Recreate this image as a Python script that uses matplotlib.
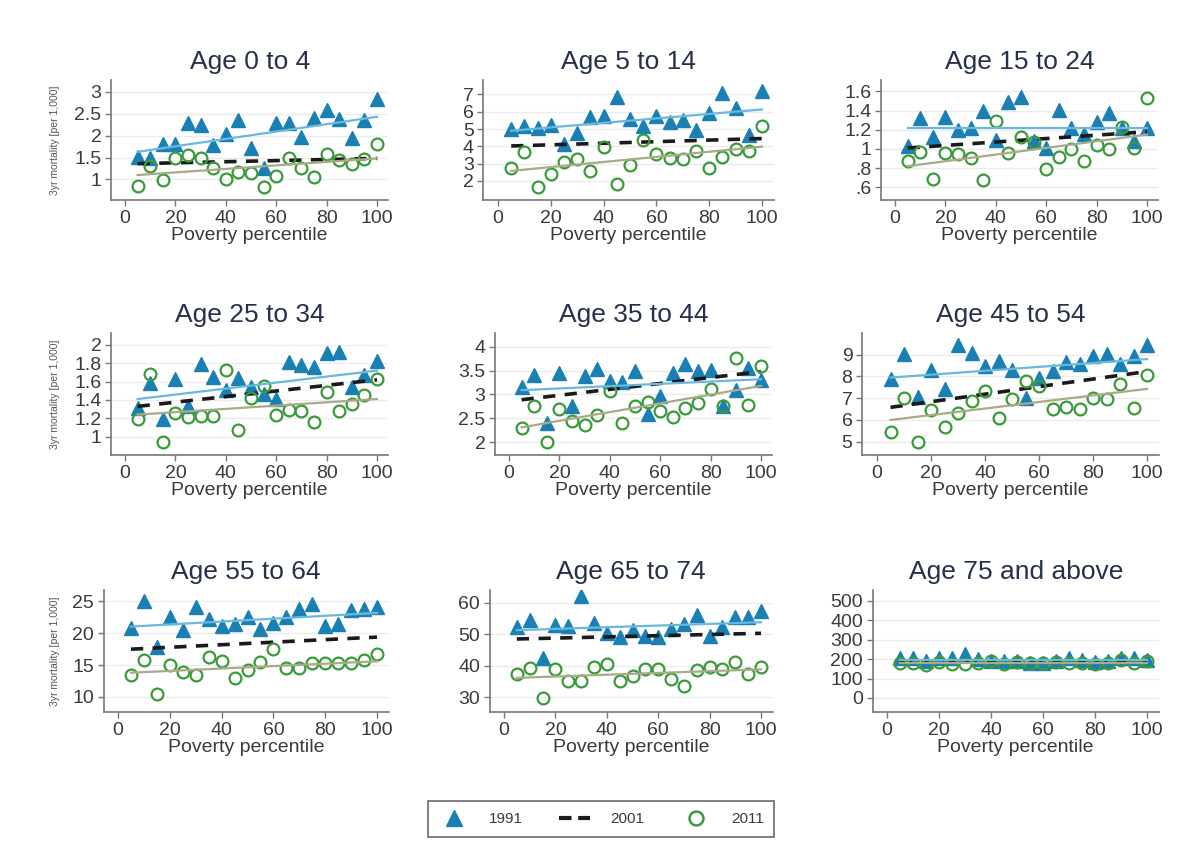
import matplotlib.pyplot as plt
from matplotlib.lines import Line2D

plt.rcParams['font.family'] = ['Liberation Sans', 'DejaVu Sans']

percentile = [5, 10, 15, 20, 25, 30, 35, 40, 45, 50, 55, 60, 65, 70, 75, 80, 85, 90, 95, 100]

titles = ["Age 0 to 4", "Age 5 to 14", "Age 15 to 24",
          "Age 25 to 34", "Age 35 to 44", "Age 45 to 54",
          "Age 55 to 64", "Age 65 to 74", "Age 75 and above"]

# 3yr mortality per 1,000 by poverty percentile
m1991_0_4 = [1.52, 1.48, 1.82, 1.82, 2.28, 2.24, 1.78, 2.03, 2.35, 1.71,
             1.25, 2.28, 2.28, 1.97, 2.41, 2.58, 2.39, 1.94, 2.35, 2.83]
m2011_0_4 = [0.86, 1.30, 0.98, 1.48, 1.56, 1.49, 1.27, 1.00, 1.17, 1.15,
             0.83, 1.08, 1.50, 1.27, 1.05, 1.58, 1.44, 1.36, 1.46, 1.80]

m1991_5_14 = [4.98, 5.17, 5.04, 5.21, 4.13, 4.75, 5.67, 5.75, 6.87, 5.58,
              5.17, 5.75, 5.38, 5.52, 4.94, 5.90, 7.10, 6.23, 4.65, 7.20]
m2011_5_14 = [2.77, 3.69, 1.67, 2.38, 3.08, 3.25, 2.60, 3.98, 1.83, 2.92,
              4.37, 3.54, 3.35, 3.25, 3.73, 2.73, 3.40, 3.85, 3.75, 5.19]

m1991_15_24 = [1.03, 1.32, 1.13, 1.33, 1.20, 1.22, 1.40, 1.09, 1.49, 1.54,
               1.08, 1.01, 1.41, 1.22, 1.16, 1.28, 1.38, 1.22, 1.08, 1.22]
m2011_15_24 = [0.87, 0.97, 0.69, 0.96, 0.95, 0.91, 0.68, 1.29, 0.96, 1.12,
               1.07, 0.79, 0.92, 1.00, 0.87, 1.04, 1.00, 1.23, 1.01, 1.53]

m1991_25_34 = [1.31, 1.58, 1.19, 1.63, 1.33, 1.79, 1.65, 1.51, 1.64, 1.54,
               1.46, 1.41, 1.81, 1.78, 1.76, 1.91, 1.92, 1.54, 1.67, 1.82]
m2011_25_34 = [1.19, 1.68, 0.94, 1.26, 1.21, 1.23, 1.23, 1.73, 1.07, 1.42,
               1.55, 1.24, 1.29, 1.28, 1.16, 1.49, 1.28, 1.36, 1.45, 1.63]

m1991_35_44 = [3.15, 3.41, 2.40, 3.46, 2.76, 3.39, 3.53, 3.29, 3.27, 3.50,
               2.59, 2.97, 3.46, 3.65, 3.49, 3.51, 2.76, 3.09, 3.55, 3.30]
m2011_35_44 = [2.29, 2.75, 2.00, 2.69, 2.45, 2.36, 2.56, 3.08, 2.41, 2.76,
               2.85, 2.66, 2.52, 2.71, 2.82, 3.11, 2.76, 3.76, 2.78, 3.60]

m1991_45_54 = [7.89, 9.05, 7.08, 8.31, 7.42, 9.46, 9.08, 8.49, 8.72, 8.31,
               7.00, 7.95, 8.23, 8.65, 8.57, 8.95, 9.05, 8.57, 8.95, 9.46]
m2011_45_54 = [5.46, 7.00, 5.00, 6.46, 5.69, 6.34, 6.88, 7.35, 6.08, 6.95,
               7.77, 7.54, 6.49, 6.62, 6.49, 7.03, 6.97, 7.65, 6.54, 8.05]

m1991_55_64 = [20.9, 25.0, 17.8, 22.5, 20.5, 24.2, 22.2, 21.1, 21.4, 22.5,
               20.7, 21.6, 22.5, 23.8, 24.6, 21.2, 21.4, 23.7, 23.8, 24.2]
m2011_55_64 = [13.4, 15.8, 10.5, 15.0, 13.9, 13.4, 16.2, 15.7, 13.0, 14.2,
               15.5, 17.6, 14.6, 14.5, 15.4, 15.4, 15.4, 15.4, 15.8, 16.8]

m1991_65_74 = [52.4, 54.5, 42.6, 52.9, 52.7, 62.0, 53.7, 50.5, 49.2, 51.3,
               49.4, 49.0, 51.6, 53.1, 56.1, 49.4, 52.4, 55.4, 55.4, 57.4]
m2011_65_74 = [37.3, 39.2, 29.9, 38.9, 35.3, 35.3, 39.7, 40.5, 35.2, 36.9,
               38.9, 38.9, 35.7, 33.7, 38.7, 39.7, 38.9, 41.3, 37.3, 39.7]

m1991_75 = [205, 205, 190, 205, 205, 225, 200, 190, 190, 190,
            180, 180, 190, 205, 195, 185, 190, 205, 205, 195]
m2011_75 = [180, 180, 170, 185, 175, 175, 180, 190, 175, 185,
            180, 180, 185, 180, 180, 175, 180, 195, 180, 190]

series1991 = [m1991_0_4, m1991_5_14, m1991_15_24, m1991_25_34, m1991_35_44,
              m1991_45_54, m1991_55_64, m1991_65_74, m1991_75]
series2011 = [m2011_0_4, m2011_5_14, m2011_15_24, m2011_25_34, m2011_35_44,
              m2011_45_54, m2011_55_64, m2011_65_74, m2011_75]

# fitted lines: value at percentile 5 and at 100
fit_x = [5, 100]
fit1991 = [[1.63, 2.43], [4.90, 6.13], [1.22, 1.22], [1.41, 1.72], [3.09, 3.32],
           [7.95, 8.80], [21.05, 23.2], [51.3, 53.8], [195, 195]]
fit2001 = [[1.36, 1.48], [4.02, 4.45], [1.01, 1.18], [1.33, 1.62], [2.89, 3.48],
           [6.58, 8.23], [17.5, 19.4], [48.5, 50.3], [190, 190]]
fit2011 = [[1.10, 1.48], [2.58, 3.98], [0.82, 1.15], [1.24, 1.41], [2.31, 3.18],
           [6.00, 7.43], [13.8, 15.6], [36.2, 38.9], [180, 180]]

yticks = [[1, 1.5, 2, 2.5, 3], [2, 3, 4, 5, 6, 7], [0.6, 0.8, 1, 1.2, 1.4, 1.6],
          [1, 1.2, 1.4, 1.6, 1.8, 2], [2, 2.5, 3, 3.5, 4], [5, 6, 7, 8, 9],
          [10, 15, 20, 25], [30, 40, 50, 60], [0, 100, 200, 300, 400, 500]]
ytick_labels = [["1", "1.5", "2", "2.5", "3"], ["2", "3", "4", "5", "6", "7"],
                [".6", ".8", "1", "1.2", "1.4", "1.6"],
                ["1", "1.2", "1.4", "1.6", "1.8", "2"],
                ["2", "2.5", "3", "3.5", "4"], ["5", "6", "7", "8", "9"],
                ["10", "15", "20", "25"], ["30", "40", "50", "60"],
                ["0", "100", "200", "300", "400", "500"]]

ylims = [(0.53, 3.27), (0.90, 7.83), (0.467, 1.72), (0.80, 2.13), (1.73, 4.29),
         (4.39, 10.0), (7.63, 26.8), (25.4, 64.0), (-72, 555)]

# pixel position of x=0 and x=100, and top/bottom of each plot region
x0px = [125, 498, 895, 125, 509, 877, 118, 504, 887]
x100px = [377, 762, 1147, 377, 761, 1147, 377, 761, 1147]
row_px = [(80, 200), (333, 455), (590, 712)]

W, H = 1193, 867
c_tri = '#1a80b4'
c_tri_fit = '#6ab8de'
c_circ = '#3a9a3a'
c_circ_fit = '#a8aa88'
c_text = '#3a3a3a'

fig = plt.figure(figsize=(W / 100, H / 100), dpi=100)

for i in range(9):
    r = i // 3
    s = (x100px[i] - x0px[i]) / 100.0
    left = x0px[i] - 5.5 * s
    right = x100px[i] + 4.5 * s
    top, bot = row_px[r]
    ax = fig.add_axes([left / W, 1 - bot / H, (right - left) / W, (bot - top) / H])
    ax.set_xlim(-5.5, 104.5)
    ax.set_ylim(*ylims[i])

    for yt in yticks[i]:
        ax.axhline(yt, color='#ececec', lw=1, zorder=0)

    ax.plot(percentile, series1991[i], '^', color=c_tri, ms=10, mec=c_tri, zorder=3)
    ax.plot(fit_x, fit2001[i], color='#1a1a1a', lw=2.6, dashes=(3.4, 2.6), zorder=4)
    ax.plot(percentile, series2011[i], 'o', mfc='none', mec=c_circ, mew=1.6, ms=8.5, zorder=5)
    ax.plot(fit_x, fit1991[i], color=c_tri_fit, lw=1.6, zorder=6)
    ax.plot(fit_x, fit2011[i], color=c_circ_fit, lw=1.6, zorder=6)

    ax.set_xticks([0, 20, 40, 60, 80, 100])
    ax.set_yticks(yticks[i])
    ax.set_yticklabels(ytick_labels[i])
    ax.tick_params(axis='both', labelsize=14, colors='#777777', labelcolor=c_text,
                   length=4, width=1, direction='out', pad=3)
    for sp in ['top', 'right']:
        ax.spines[sp].set_visible(False)
    for sp in ['left', 'bottom']:
        ax.spines[sp].set_color('#777777')
        ax.spines[sp].set_linewidth(1.2)

    ax.set_xlabel("Poverty percentile", fontsize=14, color=c_text, labelpad=0)
    ax.set_title(titles[i], fontsize=19, color='#26304a', pad=8)
    if i % 3 == 0:
        fig.text(55 / W, 1 - ((top + bot) / 2) / H, "3yr mortality [per 1,000]",
                 rotation=90, fontsize=7.5, color='#555555', ha='center', va='center')

handles = [Line2D([], [], marker='^', color=c_tri, ls='none', ms=11),
           Line2D([], [], color='#1a1a1a', lw=3, dashes=(3, 1.6)),
           Line2D([], [], marker='o', mfc='none', mec=c_circ, mew=1.8, ls='none', ms=10)]
leg = fig.legend(handles, ["1991", "2001", "2011"], loc='center',
                 bbox_to_anchor=(601 / W, 1 - 819 / H), ncol=3, fontsize=11,
                 frameon=True, fancybox=False, edgecolor='#444444',
                 handlelength=2.0, columnspacing=2.4, handletextpad=1.3,
                 borderpad=0.7)
leg.get_frame().set_linewidth(1.2)
for t in leg.get_texts():
    t.set_color(c_text)

fig.savefig('out.png', dpi=100)
